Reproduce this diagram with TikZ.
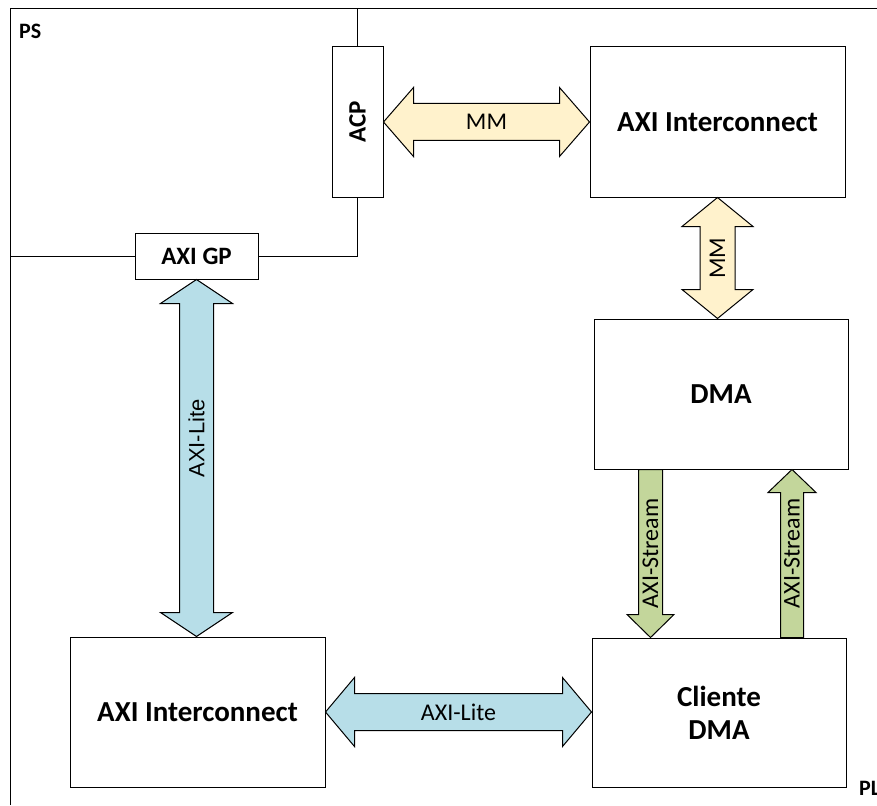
\documentclass[tikz,border=0pt]{standalone}
\usepackage{fontspec}
\setmainfont{Carlito}
\newfontfamily\arialfont{Liberation Sans}
\usetikzlibrary{calc}

\definecolor{mmcream}{HTML}{FFF2CC}
\definecolor{liteblue}{HTML}{B7DEE8}
\definecolor{streamgreen}{HTML}{C3D69B}

% horizontal double block arrow: #1 left tip, #2 right tip, #3 head length,
% #4 head half-width, #5 shaft half-width, #6 style
\newcommand{\hdarrow}[6]{%
  \draw[#6] (#1) -- ($(#1)+(#3,#4)$) -- ($(#1)+(#3,#5)$) -- ($(#2)+(-#3,#5)$)
    -- ($(#2)+(-#3,#4)$) -- (#2) -- ($(#2)+(-#3,-#4)$) -- ($(#2)+(-#3,-#5)$)
    -- ($(#1)+(#3,-#5)$) -- ($(#1)+(#3,-#4)$) -- cycle;}
% vertical double block arrow: #1 top tip, #2 bottom tip
\newcommand{\vdarrow}[6]{%
  \draw[#6] (#1) -- ($(#1)+(#4,#3)$) -- ($(#1)+(#5,#3)$) -- ($(#2)+(#5,-#3)$)
    -- ($(#2)+(#4,-#3)$) -- (#2) -- ($(#2)+(-#4,-#3)$) -- ($(#2)+(-#5,-#3)$)
    -- ($(#1)+(-#5,#3)$) -- ($(#1)+(-#4,#3)$) -- cycle;}
% vertical single block arrow: #1 tail, #2 tip, #7 = 1 pointing down, -1 up
\newcommand{\vsarrow}[7]{%
  \draw[#6] (#2) -- ($(#2)+({#4},{-(#7)*(#3)})$) -- ($(#2)+({#5},{-(#7)*(#3)})$)
    -- ($(#1)+({#5},0)$) -- ($(#1)+({-#5},0)$) -- ($(#2)+({-#5},{-(#7)*(#3)})$)
    -- ($(#2)+({-#4},{-(#7)*(#3)})$) -- cycle;}

\tikzset{
  block/.style={draw=black, line width=1pt, fill=white, inner sep=0pt, align=center,
    font=\fontsize{29}{33}\selectfont\bfseries},
  port/.style={draw=black, line width=1pt, fill=white, inner sep=0pt,
    font=\fontsize{25}{28}\selectfont\bfseries},
  portlabel/.style={inner sep=0pt, font=\fontsize{25}{28}\selectfont\bfseries},
  frame/.style={line width=1pt, black},
  mmarrow/.style={draw=black, line width=1pt, fill=mmcream, line join=miter},
  litearrow/.style={draw=black, line width=1pt, fill=liteblue, line join=miter},
  streamarrow/.style={draw=black, line width=1pt, fill=streamgreen, line join=miter},
  buslabel/.style={inner sep=0pt, font=\fontsize{24}{28}\selectfont},
  arlabel/.style={inner sep=0pt, font=\arialfont\fontsize{22}{26}\selectfont},
  arealabel/.style={inner sep=0pt, font=\fontsize{22}{26}\selectfont\bfseries},
}

\begin{document}
\begin{tikzpicture}[x=1pt, y=-1pt]
\useasboundingbox (0,0) rectangle (877,805);
\clip (0,0) rectangle (877,805);

% outer frame
\coordinate (frameTL) at (10,9);
\draw[frame] (10,805) -- (frameTL) -- (877,9);

% boxes
\node[block, minimum width=255pt, minimum height=150pt] (axitop) at (717.5,122) {AXI Interconnect};
\node[block, minimum width=254pt, minimum height=150pt] (dma) at (721,394) {DMA};
\node[block, minimum width=254pt, minimum height=149pt] (cli) at (719,712.5) {Cliente\\DMA};
\node[block, minimum width=255pt, minimum height=150pt] (axibot) at (197.5,712) {AXI Interconnect};
\node[port, minimum width=51pt, minimum height=150pt] (acp) at (357.5,122) {};
\node[portlabel, rotate=90] (acplabel) at (acp.center) {ACP};
\node[port, minimum width=123pt, minimum height=46pt] (axigp) at (196.5,256) {AXI GP};

% PS boundary
\coordinate (psL) at (frameTL |- axigp.west);
\draw[frame] (psL) -- (axigp.west);
\draw[frame] (axigp.east) -- (acp.south |- axigp.east) -- (acp.south);
\draw[frame] (acp.north) -- (acp.north |- frameTL);

% area labels
\node[arealabel, anchor=base west] (pslabel) at (19,39) {PS};
\node[arealabel, anchor=base west] (pllabel) at (859,795) {PL};

% MM: ACP <-> AXI Interconnect
\hdarrow{acp.east}{axitop.west}{30}{34.5}{18.5}{mmarrow}
\node[buslabel] (mm1) at ($(acp.east)!0.5!(axitop.west)$) {MM};

% MM: AXI Interconnect <-> DMA
\coordinate (mm2bot) at (axitop.south |- dma.north);
\vdarrow{axitop.south}{mm2bot}{29}{35.5}{17.5}{mmarrow}
\node[buslabel, rotate=90] (mm2) at ($(axitop.south)!0.5!(mm2bot)$) {MM};

% AXI-Lite: AXI GP <-> AXI Interconnect
\coordinate (lite1bot) at (axigp.south |- axibot.north);
\vdarrow{axigp.south}{lite1bot}{24}{36}{17}{litearrow}
\node[arlabel, rotate=90] (lite1) at ($(axigp.south)!0.445!(lite1bot)$) {AXI-Lite};

% AXI-Lite: AXI Interconnect <-> Cliente DMA
\coordinate (lite2r) at (cli.west |- axibot.east);
\hdarrow{axibot.east}{lite2r}{29}{34.5}{18.5}{litearrow}
\node[buslabel] (lite2) at ($(axibot.east)!0.5!(lite2r)$) {AXI-Lite};

% AXI-Stream: DMA -> Cliente DMA
\coordinate (s1tail) at ($(dma.south west)+(57,0)$);
\coordinate (s1tip) at (s1tail |- cli.north);
\vsarrow{s1tail}{s1tip}{23}{23.5}{12}{streamarrow}{1}
\node[buslabel, rotate=90] (st1) at ($(s1tail)!0.5!(s1tip)$) {AXI-Stream};

% AXI-Stream: Cliente DMA -> DMA
\coordinate (s2tail) at ($(cli.north west)+(200.5,0)$);
\coordinate (s2tip) at (s2tail |- dma.south);
\vsarrow{s2tail}{s2tip}{23}{24}{11.5}{streamarrow}{-1}
\node[buslabel, rotate=90] (st2) at ($(s2tail)!0.5!(s2tip)$) {AXI-Stream};
\end{tikzpicture}
\end{document}
